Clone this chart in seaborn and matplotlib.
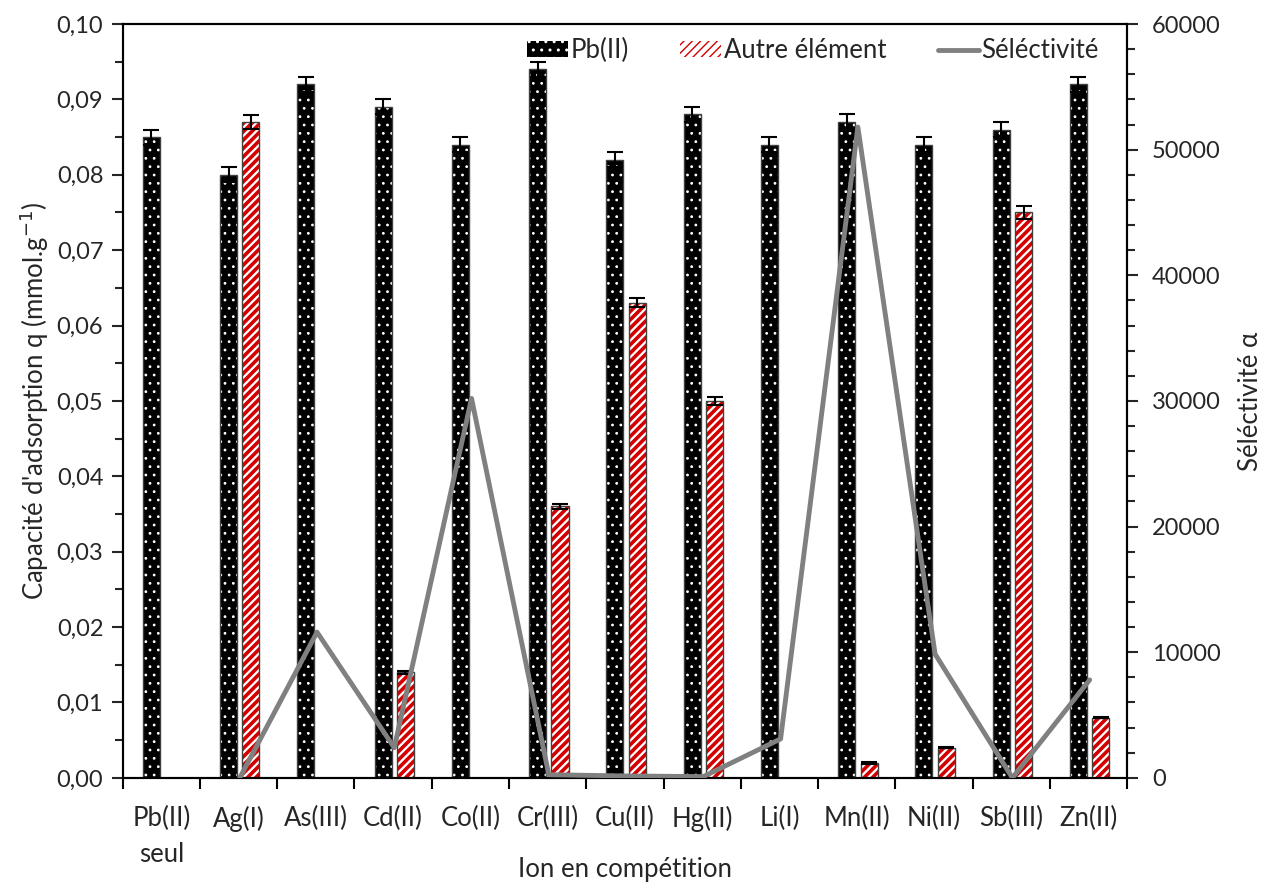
import numpy as np
import pandas as pd
import matplotlib
matplotlib.use('Agg')
import matplotlib.pyplot as plt
import seaborn as sns
from matplotlib.ticker import FuncFormatter, MultipleLocator
from matplotlib.patches import Patch
from matplotlib.lines import Line2D

# DATA
ions = ['Pb(II)\nseul', 'Ag(I)', 'As(III)', 'Cd(II)', 'Co(II)', 'Cr(III)', 'Cu(II)',
        'Hg(II)', 'Li(I)', 'Mn(II)', 'Ni(II)', 'Sb(III)', 'Zn(II)']
q_pb = [0.085, 0.080, 0.092, 0.089, 0.084, 0.094, 0.082, 0.088, 0.084, 0.087, 0.084, 0.086, 0.092]
q_pb_err = [0.001] * 13
q_autre = [0.0, 0.087, 0.0, 0.014, 0.0, 0.036, 0.063, 0.050, 0.0, 0.002, 0.004, 0.075, 0.008]
q_autre_err = [0.0, 0.0009, 0.0, 0.0002, 0.0, 0.0003, 0.0006, 0.0005, 0.0, 0.0001, 0.0001, 0.0008, 0.0001]
sel_ions = ions[1:]
selectivite = [0, 11600, 2400, 30200, 250, 150, 100, 3100, 51800, 9850, 0, 7800]

series = ['Pb(II)', 'Autre élément']

sns.set_style('ticks')
plt.rcParams['font.family'] = ['Lato', 'DejaVu Sans']
FS = 17      # numbers
FT = 18.5    # words
RED = '#d40000'


def set_hatch_lw(p, lw):
    if hasattr(p, 'set_hatch_linewidth'):
        p.set_hatch_linewidth(lw)
    else:
        p._hatch_linewidth = lw


df = pd.DataFrame({
    'Ion': ions * 2,
    'q': q_pb + q_autre,
    'err': q_pb_err + q_autre_err,
    'Série': [series[0]] * len(ions) + [series[1]] * len(ions),
})

fig = plt.figure(figsize=(12.65, 8.9), dpi=100)
ax = fig.add_axes([0.097, 0.126, 0.794, 0.847])

sns.barplot(data=df, x='Ion', y='q', hue='Série', hue_order=series, order=ions,
            palette=['black', 'white'], width=0.58, gap=0.24, ax=ax,
            legend=False, errorbar=None, linewidth=0)

# style bars (first 13 patches = Pb, next 13 = other) and shift slightly right
shift = 0.015
bars = ax.patches
for i, p in enumerate(bars):
    p.set_x(p.get_x() + shift)
    p.set_linewidth(0)
    if i < len(ions):
        p.set_facecolor('black')
        p.set_edgecolor('white')
        p.set_hatch('..')
        set_hatch_lw(p, 0.8)
    else:
        p.set_facecolor('white')
        p.set_edgecolor(RED)
        p.set_hatch('////')
        set_hatch_lw(p, 2.6)

# outlines + error bars
for i, p in enumerate(bars):
    h = p.get_height()
    if h <= 0:
        continue
    ax.add_patch(plt.Rectangle((p.get_x(), 0), p.get_width(), h, fill=False,
                               edgecolor='#404040', linewidth=1.0, zorder=3))
    err = df['err'].iloc[i]
    ax.errorbar(p.get_x() + p.get_width() / 2, h, yerr=err, fmt='none',
                ecolor='black', elinewidth=1.5, capsize=5.5, capthick=1.5, zorder=4)

ax.set_ylim(0, 0.10)
ax.set_xlim(-0.5, len(ions) - 0.5)
ax.yaxis.set_major_locator(MultipleLocator(0.01))
ax.yaxis.set_minor_locator(MultipleLocator(0.005))
ax.yaxis.set_major_formatter(FuncFormatter(lambda v, _: f'{v:.2f}'.replace('.', ',')))
ax.set_xticks(np.arange(len(ions)))
ax.set_xticklabels(ions, linespacing=1.55)
ax.xaxis.set_minor_locator(MultipleLocator(1, offset=0.5))
ax.tick_params(axis='x', which='major', length=0, labelsize=FT, pad=20)
ax.tick_params(axis='x', which='minor', length=8, width=1.5, color='black')
ax.tick_params(axis='y', which='major', length=8, width=1.5, labelsize=FS, pad=6)
ax.tick_params(axis='y', which='minor', length=6, width=1.5)
ax.set_xlabel('Ion en compétition', fontsize=FT)
ax.xaxis.set_label_coords(0.5, -0.105)
ax.set_ylabel("Capacité d'adsorption q (mmol.g$^{-1}$)", fontsize=FT, labelpad=4)

# selectivity on secondary axis
ax2 = ax.twinx()
sel_x = [ions.index(c) + shift for c in sel_ions]
sns.lineplot(x=sel_x, y=selectivite, ax=ax2, color='#808080', linewidth=3.5, zorder=5)
ax2.set_ylim(0, 60000)
ax2.yaxis.set_major_locator(MultipleLocator(10000))
ax2.yaxis.set_minor_locator(MultipleLocator(2000))
ax2.tick_params(axis='y', which='major', length=8, width=1.5, labelsize=FS, pad=10)
ax2.tick_params(axis='y', which='minor', length=6, width=1.5)
ax2.set_ylabel('Séléctivité α', fontsize=FT, labelpad=12)
ax2.set_xlim(-0.5, len(ions) - 0.5)

for a in (ax, ax2):
    for s in a.spines.values():
        s.set_visible(True)
        s.set_color('black')
        s.set_linewidth(1.5)

h1 = Patch(facecolor='black', edgecolor='white', hatch='..', linewidth=0)
set_hatch_lw(h1, 0.8)
h2 = Patch(facecolor='white', edgecolor=RED, hatch='////', linewidth=0)
set_hatch_lw(h2, 2.6)
h3 = Line2D([0], [0], color='#808080', linewidth=3.5)
ax2.legend([h1, h2, h3], ['Pb(II)', 'Autre élément', 'Séléctivité'], ncol=3, loc='upper right',
           bbox_to_anchor=(0.995, 1.012), frameon=False, fontsize=FT,
           handlelength=1.6, handleheight=0.6, handletextpad=0.1, columnspacing=2.0)

fig.savefig('out.png', dpi=100)
